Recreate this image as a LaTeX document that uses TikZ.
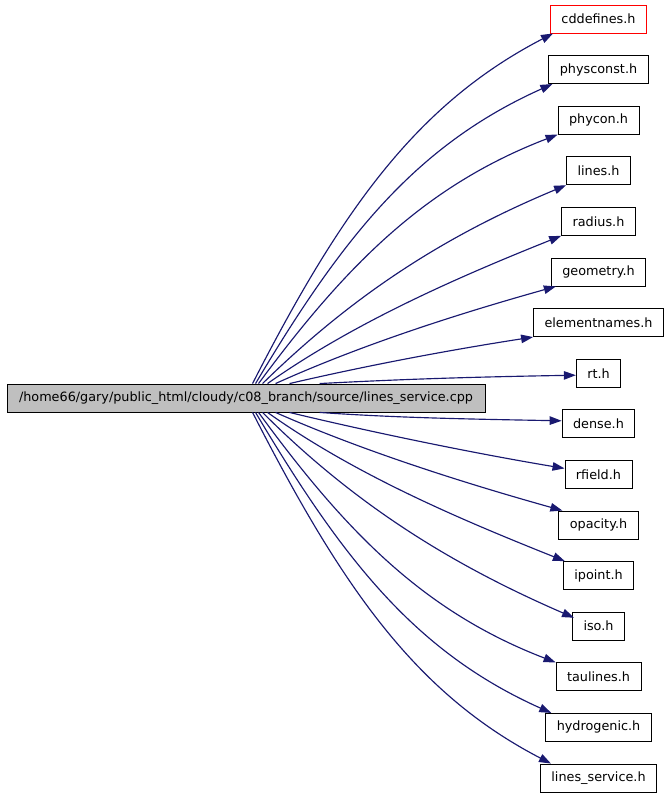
\documentclass[tikz,border=0pt]{standalone}
\usepackage{fontspec}
\setmainfont{DejaVu Sans}
\usepackage{xcolor}
\usepackage{tikz}
\usetikzlibrary{positioning, shapes, arrows.meta}

\definecolor{midnight}{HTML}{191970}
\definecolor{srcgray}{HTML}{BFBFBF}

\begin{document}
\begin{tikzpicture}[x=1pt, y=-1pt, node distance=50.6pt,
    incl/.style={draw, rectangle, line width=0.9pt, minimum height=28pt,
      inner xsep=11pt, inner ysep=0pt, font=\fontsize{12.8}{15}\selectfont},
    dep/.style={->, draw=midnight, line width=1.15pt},
    >={Triangle[length=12pt, width=8.5pt]}]
  \useasboundingbox (0,0) rectangle (669,797);

  \node (service) [incl, fill=srcgray, minimum width=478pt] at (246,398)
    {/home66/gary/public\_html/cloudy/c08\_branch/source/lines\_service.cpp};

  \node (cddefines) [incl, draw=red] at (598.5,19) {cddefines.h};
  \node (physconst) [incl, below of=cddefines] {physconst.h};
  \node (phycon) [incl, below of=physconst] {phycon.h};
  \node (lines) [incl, below of=phycon] {lines.h};
  \node (radius) [incl, below of=lines] {radius.h};
  \node (geometry) [incl, below of=radius] {geometry.h};
  \node (elementnames) [incl, below of=geometry] {elementnames.h};
  \node (rt) [incl, below of=elementnames] {rt.h};
  \node (dense) [incl, below of=rt] {dense.h};
  \node (rfield) [incl, below of=dense] {rfield.h};
  \node (opacity) [incl, below of=rfield] {opacity.h};
  \node (ipoint) [incl, below of=opacity] {ipoint.h};
  \node (iso) [incl, below of=ipoint] {iso.h};
  \node (taulines) [incl, below of=iso] {taulines.h};
  \node (hydrogenic) [incl, below of=taulines] {hydrogenic.h};
  \node (linesservice) [incl, below of=hydrogenic] {lines\_service.h};

  % upper fan
  \draw [dep] ([xshift=246pt]service.north west) .. controls +(90,-176) and +(-135,70) .. ([xshift=3pt]cddefines.south west);
  \draw [dep] ([xshift=249pt]service.north west) .. controls +(89,-150) and +(-134,60) .. ([xshift=4pt]physconst.south west);
  \draw [dep] ([xshift=252pt]service.north west) .. controls +(90,-122) and +(-130,50) .. (phycon.south west);
  \draw [dep] ([xshift=256pt]service.north west) .. controls +(92,-90) and +(-120,50) .. (lines.south west);
  \draw [dep] ([xshift=261pt]service.north west) .. controls +(88,-62) and +(-100,40) .. (radius.south west);
  \draw [dep] ([xshift=269pt]service.north west) .. controls +(84,-38) and +(-100,28) .. ([xshift=5pt]geometry.south west);
  \draw [dep] ([xshift=283pt]service.north west) .. controls +(73,-17) and +(-90,14) .. (elementnames.south west);
  \draw [dep] ([xshift=313pt]service.north west) .. controls +(77,-4) and +(-116,2) .. ([yshift=-2pt]rt.west);

  % lower fan
  \draw [dep] ([xshift=313pt]service.south west) .. controls +(73,5) and +(-109,-2) .. ([yshift=3pt]dense.west);
  \draw [dep] ([xshift=283pt]service.south west) .. controls +(83,20) and +(-90,-15) .. ([yshift=6pt]rfield.west);
  \draw [dep] ([xshift=269pt]service.south west) .. controls +(86,38) and +(-100,-28) .. ([xshift=4pt]opacity.north west);
  \draw [dep] ([xshift=261pt]service.south west) .. controls +(90,64) and +(-100,-40) .. ([xshift=2pt]ipoint.north west);
  \draw [dep] ([xshift=256pt]service.south west) .. controls +(94,94) and +(-120,-52) .. ([xshift=2pt, yshift=-6pt]iso.north west);
  \draw [dep] ([xshift=252pt]service.south west) .. controls +(89,122) and +(-130,-50) .. (taulines.north west);
  \draw [dep] ([xshift=249pt]service.south west) .. controls +(89,150) and +(-134,-60) .. ([xshift=6pt]hydrogenic.north west);
  \draw [dep] ([xshift=246pt]service.south west) .. controls +(90,176) and +(-135,-70) .. ([xshift=11pt]linesservice.north west);
\end{tikzpicture}
\end{document}
